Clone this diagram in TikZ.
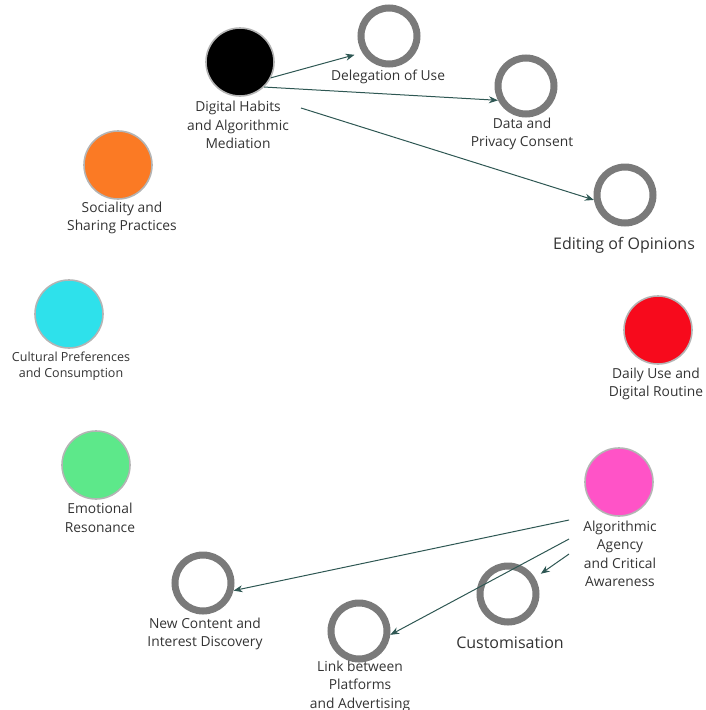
\documentclass[tikz,border=0pt]{standalone}
\usepackage{fontspec}
\setmainfont{Open Sans}
\usetikzlibrary{arrows.meta}

\definecolor{linkteal}{HTML}{2E5753}
\definecolor{ringgray}{HTML}{7A7A7A}
\definecolor{edgegray}{HTML}{B4B4B4}
\definecolor{labelgray}{HTML}{333333}
\definecolor{themeorange}{HTML}{FB7A24}
\definecolor{themecyan}{HTML}{2EE1EB}
\definecolor{themegreen}{HTML}{5DE88A}
\definecolor{themered}{HTML}{F70A1C}
\definecolor{themepink}{HTML}{FF53C7}

\tikzset{
  theme/.style={circle, draw=edgegray, line width=1.6pt, minimum size=68pt, inner sep=0pt},
  ring/.style={circle, draw=ringgray, line width=7pt, minimum size=56pt, inner sep=0pt},
  lbl/.style={align=center, text=labelgray, inner sep=2pt,
    font=\fontsize{13.8}{18.5}\selectfont},
  biglbl/.style={lbl, font=\fontsize{16}{19}\selectfont},
  smalllbl/.style={lbl, font=\fontsize{12.5}{16.5}\selectfont},
  link/.style={draw=linkteal, line width=1pt, -{Stealth[length=9pt,width=7pt]}},
}

\begin{document}
\begin{tikzpicture}[x=1pt,y=-1pt]
    \useasboundingbox (0,0) rectangle (706,710);

    % themes
    \node[theme, fill=black] (dhm) at (240,62) {};
    \node[lbl] (dhml) at (238,125) {Digital Habits\\and Algorithmic\\Mediation};
    \node[theme, fill=themeorange] (ssp) at (118,165) {};
    \node[lbl] (sspl) at (122,218) {Sociality and\\Sharing Practices};
    \node[theme, fill=themecyan] (cpc) at (69,314) {};
    \node[smalllbl] (cpcl) at (71,366) {Cultural Preferences\\and Consumption};
    \node[theme, fill=themegreen] (emr) at (96,465) {};
    \node[lbl] (emrl) at (100,518) {Emotional\\Resonance};
    \node[theme, fill=themered] (dur) at (658,330) {};
    \node[lbl] (durl) at (656,384) {Daily Use and\\Digital Routine};
    \node[theme, fill=themepink] (aca) at (619,482) {};
    \node[lbl] (acal) at (620,554) {Algorithmic\\Agency\\and Critical\\Awareness};

    % sub-themes
    \node[ring] (del) at (389,36) {};
    \node[lbl] (dell) at (388,77) {Delegation of Use};
    \node[ring] (dpc) at (526,86) {};
    \node[lbl] (dpcl) at (522,134) {Data and\\Privacy Consent};
    \node[ring] (edo) at (625,195) {};
    \node[biglbl] (edol) at (624,245) {Editing of Opinions};
    \node[ring] (cus) at (508,594) {};
    \node[biglbl] (cusl) at (510,643) {Customisation};
    \node[ring] (ncd) at (203,583) {};
    \node[lbl] (ncdl) at (205,634) {New Content and\\Interest Discovery};
    \node[ring] (lpa) at (359,631) {};
    \node[lbl] (lpal) at (360,686) {Link between\\Platforms\\and Advertising};

    \draw [link, shorten >=8pt] (dhm.-27) -- (del.212);
    \draw [link] (dhm.-46) -- (dpc.207);
    \draw [link] ([xshift=10pt,yshift=17pt]dhml.east) -- (edo.189);
    \draw [link] ([xshift=-12pt,yshift=34pt]acal.west) -- (ncd.-14);
    \draw [link] ([xshift=-12pt,yshift=15pt]acal.west) -- (lpa.-7);
    \draw [link, shorten >=7pt] ([xshift=-12pt]acal.west) -- (cus.31);
\end{tikzpicture}
\end{document}
